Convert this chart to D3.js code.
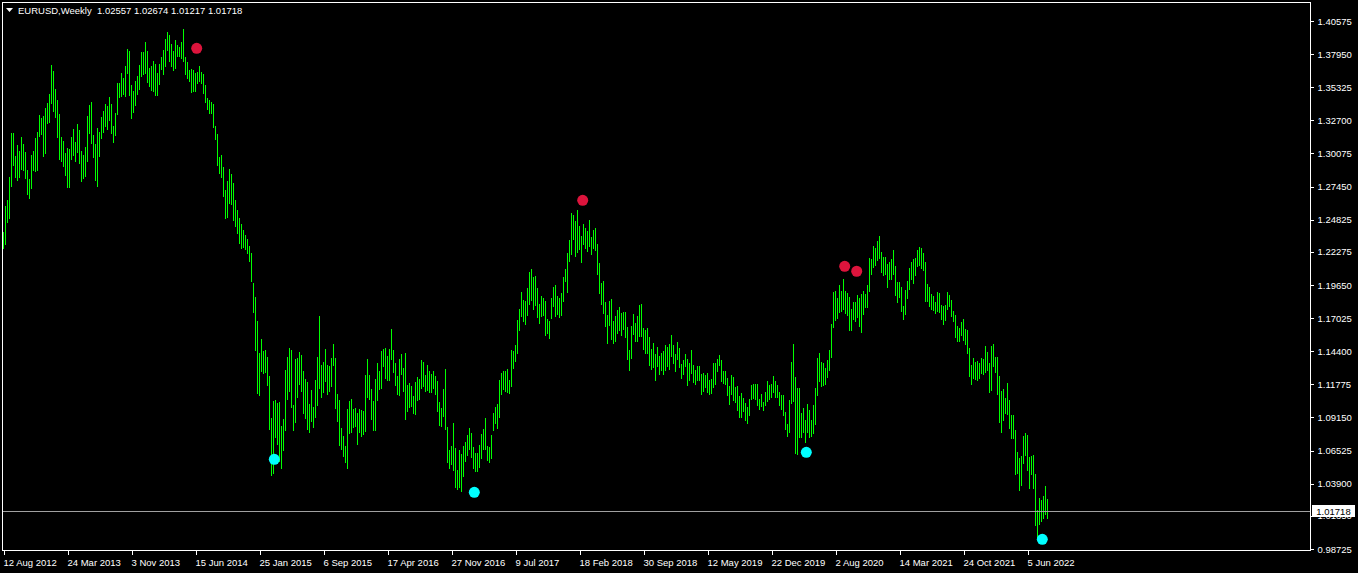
<!DOCTYPE html>
<html><head><meta charset="utf-8">
<script src="https://cdn.jsdelivr.net/npm/d3@7"></script>
<style>
html,body{margin:0;padding:0;background:#000;overflow:hidden;}
svg{display:block;}
text{font-family:"Liberation Sans",Arial,sans-serif;}
</style></head><body>
<svg id="c" width="1358" height="573"></svg>
<script>
// ---------- DATA ----------
const symbolTitle = "EURUSD,Weekly";
const lastBarOHLC = [1.02557, 1.02674, 1.01217, 1.01718];
const xTickLabels = ["12 Aug 2012","24 Mar 2013","3 Nov 2013","15 Jun 2014","25 Jan 2015","6 Sep 2015","17 Apr 2016","27 Nov 2016","9 Jul 2017","18 Feb 2018","30 Sep 2018","12 May 2019","22 Dec 2019","2 Aug 2020","14 Mar 2021","24 Oct 2021","5 Jun 2022"];
const barsPerXTick = 32;
const yTickLabels = ["1.40575","1.37950","1.35325","1.32700","1.30075","1.27450","1.24825","1.22275","1.19650","1.17025","1.14400","1.11775","1.09150","1.06525","1.03900","1.01350","0.98725"];

const highs = [
1.2388,1.2591,1.2639,1.2821,1.3172,1.3172,1.2987,1.3075,1.3027,1.3138,
1.3083,1.3019,1.2876,1.2805,1.2995,1.3027,1.3130,1.3178,1.3312,1.3289,
1.3305,1.3368,1.3408,1.3479,1.3709,1.3661,1.3519,1.3431,1.3320,1.3138,
1.3106,1.3011,1.3051,1.3043,1.3138,1.3202,1.3099,1.3241,1.3194,1.3027,
1.2995,1.3059,1.3305,1.3392,1.3415,1.3154,1.3083,1.3209,1.3178,1.3297,
1.3344,1.3400,1.3384,1.3455,1.3400,1.3225,1.3328,1.3566,1.3566,1.3645,
1.3606,1.3701,1.3836,1.3820,1.3550,1.3503,1.3582,1.3622,1.3709,1.3812,
1.3812,1.3891,1.3820,1.3685,1.3701,1.3740,1.3717,1.3645,1.3717,1.3772,
1.3828,1.3915,1.3970,1.3947,1.3875,1.3820,1.3907,1.3867,1.3851,1.3891,
1.3994,1.3772,1.3733,1.3669,1.3677,1.3669,1.3645,1.3653,1.3701,1.3653,
1.3637,1.3550,1.3447,1.3431,1.3416,1.3400,1.3225,1.3162,1.2980,1.2995,
1.2900,1.2718,1.2789,1.2884,1.2845,1.2774,1.2640,1.2560,1.2500,1.2450,
1.2400,1.2360,1.2330,1.2274,1.2216,1.1981,1.1870,1.1680,1.1426,1.1537,
1.1442,1.1450,1.1394,1.1244,1.0911,1.1046,1.1054,1.1030,1.1038,1.0848,
1.0903,1.1291,1.1394,1.1466,1.1450,1.1014,1.1379,1.1386,1.1434,1.1410,
1.1283,1.1220,1.1196,1.1022,1.1133,1.0998,1.1212,1.1394,1.1719,1.1331,
1.1355,1.1458,1.1331,1.1323,1.1386,1.1497,1.1386,1.1101,1.1054,1.0832,
1.0768,1.0689,1.0982,1.1046,1.1061,1.0982,1.0990,1.0950,1.0982,1.0974,
1.0966,1.1252,1.1378,1.1252,1.1141,1.1046,1.1220,1.1347,1.1283,1.1442,
1.1458,1.1466,1.1402,1.1458,1.1616,1.1450,1.1347,1.1244,1.1378,1.1418,
1.1307,1.1426,1.1172,1.1188,1.1164,1.1085,1.1196,1.1236,1.1220,1.1370,
1.1355,1.1252,1.1331,1.1283,1.1260,1.1283,1.1244,1.1204,1.1038,1.0990,
1.1141,1.1299,1.0840,1.0657,1.0689,1.0871,1.0673,1.0499,1.0657,1.0626,
1.0689,1.0721,1.0776,1.0832,1.0792,1.0681,1.0634,1.0634,1.0697,1.0784,
1.0824,1.0911,1.0689,1.0681,1.0776,1.0951,1.0998,1.1022,1.1212,1.1268,
1.1283,1.1283,1.1299,1.1212,1.1450,1.1442,1.1490,1.1688,1.1775,1.1910,
1.1846,1.1838,1.1941,1.2068,1.2092,1.2028,1.2036,1.1941,1.1814,1.1878,
1.1862,1.1838,1.1696,1.1680,1.1862,1.1949,1.1965,1.1878,1.1862,1.1902,
1.2028,1.2092,1.2219,1.2322,1.2536,1.2520,1.2472,1.2560,1.2433,1.2353,
1.2449,1.2417,1.2393,1.2480,1.2346,1.2401,1.2417,1.2290,1.2139,1.1981,
1.1997,1.1830,1.1727,1.1838,1.1854,1.1680,1.1719,1.1767,1.1791,1.1743,
1.1751,1.1751,1.1632,1.1450,1.1640,1.1735,1.1664,1.1719,1.1807,1.1814,
1.1624,1.1608,1.1624,1.1553,1.1458,1.1505,1.1418,1.1474,1.1402,1.1426,
1.1442,1.1490,1.1474,1.1497,1.1569,1.1490,1.1418,1.1513,1.1466,1.1339,
1.1371,1.1418,1.1378,1.1347,1.1450,1.1331,1.1291,1.1323,1.1323,1.1260,
1.1268,1.1252,1.1268,1.1212,1.1220,1.1347,1.1347,1.1378,1.1410,1.1371,
1.1283,1.1283,1.1228,1.1164,1.1252,1.1236,1.1157,1.1164,1.1085,1.1109,
1.1069,1.1030,1.0998,1.1061,1.1172,1.1180,1.1180,1.1180,1.1061,1.1101,
1.1038,1.1117,1.1204,1.1172,1.1180,1.1244,1.1204,1.1172,1.1117,1.1093,
1.1093,1.0958,1.0863,1.1054,1.1355,1.1497,1.1236,1.1149,1.1149,1.0951,
1.0990,1.0895,1.1022,1.0974,1.0895,1.1014,1.1149,1.1386,1.1426,1.1355,
1.1347,1.1307,1.1371,1.1450,1.1656,1.1910,1.1917,1.1862,1.1965,1.1917,
1.2013,1.1917,1.1902,1.1870,1.1775,1.1830,1.1830,1.1886,1.1862,1.1894,
1.1917,1.1894,1.1965,1.2179,1.2171,1.2274,1.2258,1.2314,1.2353,1.2227,
1.2187,1.2187,1.2132,1.2147,1.2171,1.2242,1.2116,1.1989,1.1989,1.1949,
1.1799,1.1925,1.1997,1.2100,1.2147,1.2171,1.2179,1.2242,1.2266,1.2258,
1.2219,1.2147,1.1973,1.1949,1.1894,1.1878,1.1830,1.1910,1.1902,1.1806,
1.1799,1.1806,1.1910,1.1886,1.1846,1.1759,1.1727,1.1640,1.1624,1.1672,
1.1696,1.1616,1.1608,1.1466,1.1331,1.1386,1.1355,1.1363,1.1347,1.1386,
1.1378,1.1482,1.1434,1.1347,1.1482,1.1497,1.1394,1.1394,1.1244,1.1125,
1.1141,1.1069,1.1188,1.1053,1.0935,1.0935,1.0816,1.0641,1.0594,1.0610,
1.0768,1.0792,1.0776,1.0602,1.0610,1.0618,1.0467,1.0182,1.0277,1.0261,
1.0293,1.0372,1.02674];

const lows = [
1.2256,1.2293,1.2467,1.2499,1.2750,1.2916,1.2821,1.2797,1.2821,1.2884,
1.2876,1.2813,1.2686,1.2657,1.2734,1.2876,1.2869,1.2876,1.3146,1.3162,
1.2987,1.3011,1.3249,1.3257,1.3408,1.3344,1.3297,1.3138,1.2964,1.2948,
1.2908,1.2837,1.2742,1.2742,1.2964,1.2995,1.2948,1.3019,1.2932,1.2789,
1.2813,1.2829,1.2948,1.3170,1.3091,1.2980,1.2797,1.2750,1.2987,1.3130,
1.3178,1.3225,1.3202,1.3273,1.3170,1.3099,1.3154,1.3320,1.3455,1.3463,
1.3479,1.3463,1.3645,1.3471,1.3289,1.3336,1.3392,1.3479,1.3519,1.3622,
1.3637,1.3645,1.3574,1.3542,1.3511,1.3503,1.3471,1.3471,1.3558,1.3677,
1.3637,1.3701,1.3828,1.3740,1.3701,1.3669,1.3685,1.3780,1.3780,1.3764,
1.3740,1.3637,1.3606,1.3582,1.3495,1.3503,1.3503,1.3566,1.3582,1.3566,
1.3487,1.3416,1.3360,1.3328,1.3328,1.3217,1.3122,1.2916,1.2853,1.2821,
1.2670,1.2496,1.2504,1.2615,1.2607,1.2480,1.2430,1.2380,1.2300,1.2260,
1.2269,1.2248,1.2216,1.2158,1.1997,1.1751,1.1450,1.1109,1.1093,1.1283,
1.1268,1.1276,1.1172,1.0824,1.0459,1.0475,1.0760,1.0705,1.0570,1.0515,
1.0657,1.0816,1.1062,1.1125,1.0998,1.0816,1.0879,1.1077,1.1180,1.1125,
1.0951,1.0911,1.0824,1.0800,1.0887,1.0840,1.0919,1.1014,1.1149,1.1077,
1.1117,1.1204,1.1101,1.1125,1.1164,1.1331,1.0990,1.0887,1.0697,1.0665,
1.0610,1.0562,1.0515,1.0792,1.0800,1.0840,1.0847,1.0705,1.0800,1.0768,
1.0784,1.0808,1.1077,1.1061,1.0903,1.0816,1.0816,1.1053,1.1141,1.1149,
1.1323,1.1228,1.1212,1.1212,1.1378,1.1275,1.1172,1.1101,1.1093,1.1260,
1.1125,1.0903,1.0966,1.0998,1.1006,1.0950,1.0942,1.1053,1.1061,1.1149,
1.1164,1.1125,1.1133,1.1117,1.1117,1.1149,1.1101,1.0966,1.0855,1.0847,
1.0927,1.0824,1.0562,1.0515,1.0546,1.0499,1.0364,1.0348,1.0364,1.0332,
1.0451,1.0570,1.0618,1.0665,1.0602,1.0515,1.0491,1.0491,1.0522,1.0594,
1.0665,1.0665,1.0578,1.0562,1.0594,1.0816,1.0871,1.0832,1.0919,1.1101,
1.1141,1.1125,1.1117,1.1109,1.1164,1.1307,1.1363,1.1426,1.1608,1.1719,
1.1680,1.1656,1.1727,1.1814,1.1846,1.1775,1.1806,1.1711,1.1664,1.1719,
1.1727,1.1569,1.1585,1.1545,1.1703,1.1799,1.1719,1.1735,1.1711,1.1727,
1.1838,1.1997,1.1910,1.2155,1.2211,1.2330,1.2195,1.2227,1.2250,1.2147,
1.2290,1.2258,1.2235,1.2274,1.2211,1.2258,1.2242,1.2052,1.1902,1.1814,
1.1743,1.1640,1.1505,1.1648,1.1537,1.1505,1.1521,1.1585,1.1608,1.1569,
1.1616,1.1553,1.1379,1.1291,1.1386,1.1577,1.1521,1.1521,1.1561,1.1561,
1.1458,1.1426,1.1426,1.1331,1.1299,1.1315,1.1212,1.1323,1.1260,1.1291,
1.1260,1.1291,1.1323,1.1299,1.1400,1.1347,1.1283,1.1378,1.1315,1.1228,
1.1260,1.1323,1.1172,1.1212,1.1268,1.1196,1.1180,1.1212,1.1212,1.1101,
1.1125,1.1157,1.1117,1.1101,1.1109,1.1157,1.1180,1.1283,1.1331,1.1204,
1.1188,1.1180,1.1093,1.1022,1.1101,1.1054,1.1038,1.0974,1.0919,1.0919,
1.0966,1.0895,1.0871,1.0935,1.1061,1.1069,1.1061,1.1014,1.0982,1.1006,
1.0974,1.1014,1.1046,1.1061,1.1077,1.1117,1.1077,1.1077,1.1014,1.0982,
1.0935,1.0824,1.0768,1.0800,1.1030,1.1046,1.0634,1.0626,1.0760,1.0760,
1.0800,1.0721,1.0800,1.0760,1.0768,1.0792,1.0863,1.1093,1.1204,1.1164,
1.1172,1.1180,1.1236,1.1291,1.1394,1.1632,1.1688,1.1704,1.1751,1.1759,
1.1775,1.1743,1.1727,1.1608,1.1608,1.1696,1.1680,1.1711,1.1640,1.1593,
1.1735,1.1791,1.1791,1.1917,1.2052,1.2108,1.2124,1.2163,1.2179,1.2068,
1.2044,1.2052,1.1949,1.2013,1.2013,1.2052,1.1886,1.1830,1.1870,1.1759,
1.1696,1.1735,1.1862,1.1933,1.2013,1.1981,1.2044,1.2116,1.2124,1.2100,
1.2084,1.1838,1.1838,1.1799,1.1775,1.1767,1.1743,1.1759,1.1751,1.1696,
1.1656,1.1688,1.1775,1.1799,1.1719,1.1680,1.1553,1.1521,1.1521,1.1569,
1.1529,1.1497,1.1426,1.1244,1.1180,1.1228,1.1220,1.1212,1.1228,1.1267,
1.1260,1.1275,1.1291,1.1117,1.1133,1.1323,1.1275,1.1101,1.0879,1.0800,
1.0895,1.0950,1.0943,1.0832,1.0752,1.0752,1.0467,1.0475,1.0340,1.0380,
1.0554,1.0618,1.0499,1.0356,1.0467,1.0356,1.0063,0.9968,1.0071,1.0094,
1.0118,1.0150,1.01217];

// signal dots: bar position and price
const upperDots = [{bar:96.6, price:1.3841},{bar:289.6, price:1.2636},{bar:420.6, price:1.2113},{bar:426.6, price:1.2074}];
const lowerDots = [{bar:135.4, price:1.0583},{bar:235.4, price:1.0322},{bar:401.4, price:1.0639},{bar:519.4, price:0.9949}];

// ---------- LAYOUT ----------
const W = 1358, H = 573;
const plotL = 2, plotR = 1310, plotT = 2, plotB = 550;
const barColor = "#00ff00";
const fontSize = 9.5;

const svg = d3.select("#c");
svg.append("rect").attr("width", W).attr("height", H).attr("fill", "#000");

const x = d3.scaleLinear().domain([0, highs.length - 1]).range([3.5, 3.5 + 2 * (highs.length - 1)]);
const y = d3.scaleLinear().domain([0.98725, 1.40575]).range([549, 21]);

// bars
svg.append("g").selectAll("line").data(highs).join("line")
  .attr("x1", (d, i) => x(i)).attr("x2", (d, i) => x(i))
  .attr("y1", d => y(d)).attr("y2", (d, i) => y(lows[i]) + 1)
  .attr("stroke", barColor).attr("stroke-width", 1)
  .attr("shape-rendering", "crispEdges");

// current price line
const lastClose = lastBarOHLC[3];
const yc = Math.round(y(lastClose)) + 0.5;
svg.append("line").attr("x1", plotL).attr("x2", plotR).attr("y1", yc).attr("y2", yc)
  .attr("stroke", "#a0a0a0").attr("stroke-width", 1).attr("shape-rendering", "crispEdges");

// dots
svg.append("g").selectAll("circle").data(upperDots).join("circle")
  .attr("cx", d => x(d.bar)).attr("cy", d => y(d.price)).attr("r", 5.5).attr("fill", "#dc143c");
svg.append("g").selectAll("circle").data(lowerDots).join("circle")
  .attr("cx", d => x(d.bar)).attr("cy", d => y(d.price)).attr("r", 5.5).attr("fill", "#00ffff");

// frame
svg.append("rect").attr("x", plotL + 0.5).attr("y", plotT + 0.5)
  .attr("width", plotR - plotL).attr("height", plotB - plotT)
  .attr("fill", "none").attr("stroke", "#fff").attr("stroke-width", 1).attr("shape-rendering", "crispEdges");

// right axis
const yAxisG = svg.append("g").attr("transform", `translate(${plotR + 0.5},0)`);
const yVals = yTickLabels.map(Number);
const yAxis = d3.axisRight(y).tickValues(yVals).tickSize(3).tickPadding(4)
  .tickFormat((d, i) => yTickLabels[i]);
yAxisG.call(yAxis);
yAxisG.select(".domain").remove();
yAxisG.selectAll(".tick line").attr("stroke", "#fff").attr("shape-rendering", "crispEdges");
yAxisG.selectAll(".tick text").attr("fill", "#fff").attr("font-size", fontSize)
  .attr("font-family", "Liberation Sans, Arial, sans-serif");

// current price label (covers the upper part of the tick label below, as in the terminal)
const lbl = svg.append("g");
lbl.append("rect").attr("x", 1312).attr("y", yc - 6.5).attr("width", 43).attr("height", 12).attr("fill", "#fff");
lbl.append("text").attr("x", 1333.5).attr("y", yc + 3.5).attr("text-anchor", "middle")
  .attr("font-size", fontSize).attr("fill", "#000").text(d3.format(".5f")(lastClose));

// bottom axis
const xTickBars = xTickLabels.map((d, k) => k * barsPerXTick);
const xAxisG = svg.append("g").attr("transform", `translate(0,${plotB + 0.5})`);
const xAxis = d3.axisBottom(x).tickValues(xTickBars).tickSize(4).tickFormat((d, i) => xTickLabels[i]);
xAxisG.call(xAxis);
xAxisG.select(".domain").remove();
xAxisG.selectAll(".tick line").attr("stroke", "#fff").attr("shape-rendering", "crispEdges");
xAxisG.selectAll(".tick text").attr("fill", "#fff").attr("font-size", fontSize)
  .attr("text-anchor", "start").attr("dx", -0.5).attr("dy", "0.85em")
  .attr("font-family", "Liberation Sans, Arial, sans-serif");

// title
svg.append("path").attr("d", "M6,8 L13,8 L9.5,12 Z").attr("fill", "#fff");
svg.append("text").attr("x", 18).attr("y", 14).attr("font-size", fontSize).attr("fill", "#fff")
  .attr("xml:space", "preserve")
  .text(symbolTitle + "  " + lastBarOHLC.map(d3.format(".5f")).join(" "));
</script>
</body></html>
